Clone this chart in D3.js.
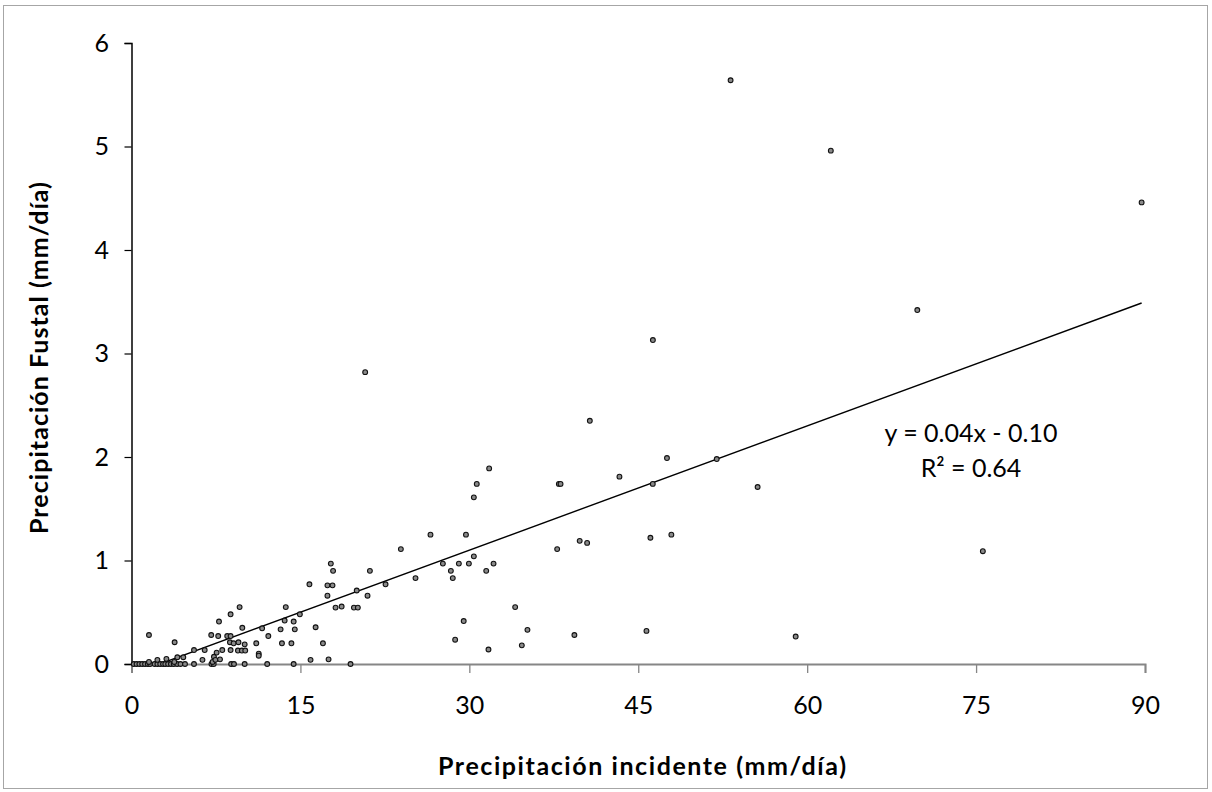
<!DOCTYPE html>
<html>
<head>
<meta charset="utf-8">
<script src="https://cdn.jsdelivr.net/npm/d3@7"></script>
<style>
  html, body { margin: 0; padding: 0; background: #fff; }
  svg { display: block; }
</style>
</head>
<body>
<svg id="chart" width="1212" height="792"></svg>
<script>
// Daily incident rainfall (mm/day)
const incidente = [
  0.2, 0.45, 0.7, 0.95, 1.2, 1.45, 1.65, 2.05, 2.3, 2.55, 2.8, 3.0, 3.25, 3.5, 3.75, 4.05, 4.35, 4.75, 5.55,
  7.1, 7.3, 8.85, 9.1, 10.05, 12.05, 14.4, 19.45,
  1.55, 2.3, 3.1, 3.8, 4.07, 4.6, 5.55, 6.3, 6.5, 3.83, 1.55, 7.08, 7.7, 7.77, 8.5, 8.8, 8.8,
  7.32, 7.2, 7.45, 7.86, 7.56, 8.06, 8.8, 8.74,
  9.07, 9.5, 10.05, 9.45, 9.8, 10.1, 9.6, 9.84, 11.08, 11.3, 11.3, 11.6, 12.15, 13.24, 13.36, 13.6, 13.7,
  14.2, 14.4, 14.5, 14.95, 15.8, 15.9, 16.35, 17.0, 17.4, 17.4, 17.85, 17.5, 17.7, 17.9,
  18.12, 18.66, 19.75, 20.1, 20.0, 20.96, 21.17, 22.56, 23.92, 25.22, 26.55, 20.75,
  27.65, 28.36, 28.53, 29.07, 29.7, 29.96, 30.4, 30.4, 30.66, 31.76, 31.5, 32.15, 29.5, 28.74, 31.7,
  34.07, 35.16, 34.66,
  40.7, 47.55, 51.97, 37.95, 38.1, 43.33, 46.29, 55.6, 37.8, 39.8, 40.46, 46.08, 47.94, 39.33, 45.73, 58.98,
  69.78, 75.6, 46.3, 53.2, 62.1, 89.7
];
// Daily stemflow (mm/day)
const fustal = [
  0, 0, 0, 0, 0, 0, 0, 0, 0, 0, 0, 0, 0, 0, 0, 0, 0, 0, 0,
  0, 0, 0, 0, 0, 0, 0, 0,
  0.02, 0.04, 0.05, 0.02, 0.065, 0.065, 0.135, 0.04, 0.135, 0.21, 0.28, 0.28, 0.27, 0.41, 0.27, 0.27, 0.48,
  0.07, 0.02, 0.04, 0.045, 0.11, 0.135, 0.135, 0.21,
  0.2, 0.21, 0.19, 0.13, 0.13, 0.13, 0.55, 0.35, 0.2, 0.1, 0.08, 0.345, 0.27, 0.335, 0.2, 0.42, 0.55,
  0.2, 0.41, 0.335, 0.48, 0.77, 0.04, 0.355, 0.2, 0.66, 0.76, 0.76, 0.045, 0.97, 0.9,
  0.545, 0.555, 0.545, 0.545, 0.71, 0.66, 0.9, 0.77, 1.11, 0.83, 1.25, 2.82,
  0.97, 0.9, 0.83, 0.97, 1.25, 0.97, 1.04, 1.61, 1.74, 1.89, 0.9, 0.97, 0.415, 0.235, 0.14,
  0.55, 0.33, 0.18,
  2.35, 1.99, 1.98, 1.74, 1.74, 1.81, 1.74, 1.71, 1.11, 1.19, 1.17, 1.22, 1.25, 0.28, 0.32, 0.265,
  3.42, 1.09, 3.13, 5.64, 4.96, 4.46
];
const xTicks = [0, 15, 30, 45, 60, 75, 90];
const yTicks = [0, 1, 2, 3, 4, 5, 6];
// Linear fit reported for the series
const slope = 0.04;
const intercept = -0.10;
const r2 = 0.64;

const svg = d3.select("#chart");
const plotLeft = 131.5, plotRight = 1145, plotTop = 43, plotBottom = 664;

// Outer chart frame
svg.append("rect")
  .attr("x", 3.5).attr("y", 5.5)
  .attr("width", 1204).attr("height", 783)
  .attr("fill", "#fff").attr("stroke", "#a6a6a6").attr("stroke-width", 1);

const x = d3.scaleLinear().domain([0, 90]).range([plotLeft, plotRight]);
const y = d3.scaleLinear().domain([0, 6]).range([plotBottom, plotTop]);

const font = "Lato, 'Open Sans', sans-serif";
const tickSizePx = 25;

// X axis (grey)
const xAxis = svg.append("g")
  .attr("transform", `translate(0,${plotBottom})`)
  .call(d3.axisBottom(x).tickValues(xTicks).tickSize(9).tickPadding(23).tickFormat(d3.format("d")));
xAxis.select(".domain").attr("stroke", "#868686").attr("stroke-width", 2);
xAxis.selectAll(".tick line").attr("stroke", "#868686").attr("stroke-width", 1.3);
xAxis.selectAll(".tick text")
  .attr("font-family", font).attr("font-size", tickSizePx).attr("fill", "#000");

// Y axis (black)
const yAxis = svg.append("g")
  .attr("transform", `translate(${plotLeft},0)`)
  .call(d3.axisLeft(y).tickValues(yTicks).tickSize(7).tickPadding(15.5).tickFormat(d3.format("d")));
yAxis.select(".domain").attr("stroke", "#000").attr("stroke-width", 1.5);
yAxis.selectAll(".tick line").attr("stroke", "#000").attr("stroke-width", 1.2);
yAxis.selectAll(".tick text")
  .attr("font-family", font).attr("font-size", tickSizePx).attr("fill", "#000");

// Clip the fit line to the plotting area
svg.append("clipPath").attr("id", "plotClip")
  .append("rect").attr("x", plotLeft).attr("y", plotTop)
  .attr("width", plotRight - plotLeft).attr("height", plotBottom - plotTop);

const xMin = d3.min(incidente), xMax = d3.max(incidente);
svg.append("line")
  .attr("clip-path", "url(#plotClip)")
  .attr("x1", x(xMin)).attr("y1", y(slope * xMin + intercept))
  .attr("x2", x(xMax)).attr("y2", y(slope * xMax + intercept))
  .attr("stroke", "#000").attr("stroke-width", 1.4);

// Observations
const pts = incidente.map((v, i) => ({ xi: v, yi: fustal[i] }));
svg.append("g").selectAll("circle")
  .data(pts).join("circle")
  .attr("cx", d => x(d.xi))
  .attr("cy", d => y(d.yi))
  .attr("r", 2.4)
  .attr("fill", "#8a8a8a")
  .attr("stroke", "#111")
  .attr("stroke-width", 1.1);

// Fit equation
const eq = svg.append("text")
  .attr("y", 442)
  .attr("text-anchor", "middle")
  .attr("font-family", font).attr("font-size", 25).attr("fill", "#000");
eq.append("tspan").attr("x", 971).text(`y = ${slope.toFixed(2)}x - ${Math.abs(intercept).toFixed(2)}`);
eq.append("tspan").attr("x", 971).attr("dy", 35).text(`R² = ${r2.toFixed(2)}`);

// Axis titles
svg.append("text")
  .attr("x", 642).attr("y", 775)
  .attr("text-anchor", "middle")
  .attr("font-family", font).attr("font-weight", "bold")
  .attr("font-size", 25).attr("fill", "#000")
  .attr("textLength", 408).attr("lengthAdjust", "spacing")
  .text("Precipitación incidente (mm/día)");

svg.append("text")
  .attr("transform", "translate(48,358) rotate(-90)")
  .attr("text-anchor", "middle")
  .attr("font-family", font).attr("font-weight", "bold")
  .attr("font-size", 25).attr("fill", "#000")
  .attr("textLength", 352).attr("lengthAdjust", "spacing")
  .text("Precipitación Fustal (mm/día)");
</script>
</body>
</html>
